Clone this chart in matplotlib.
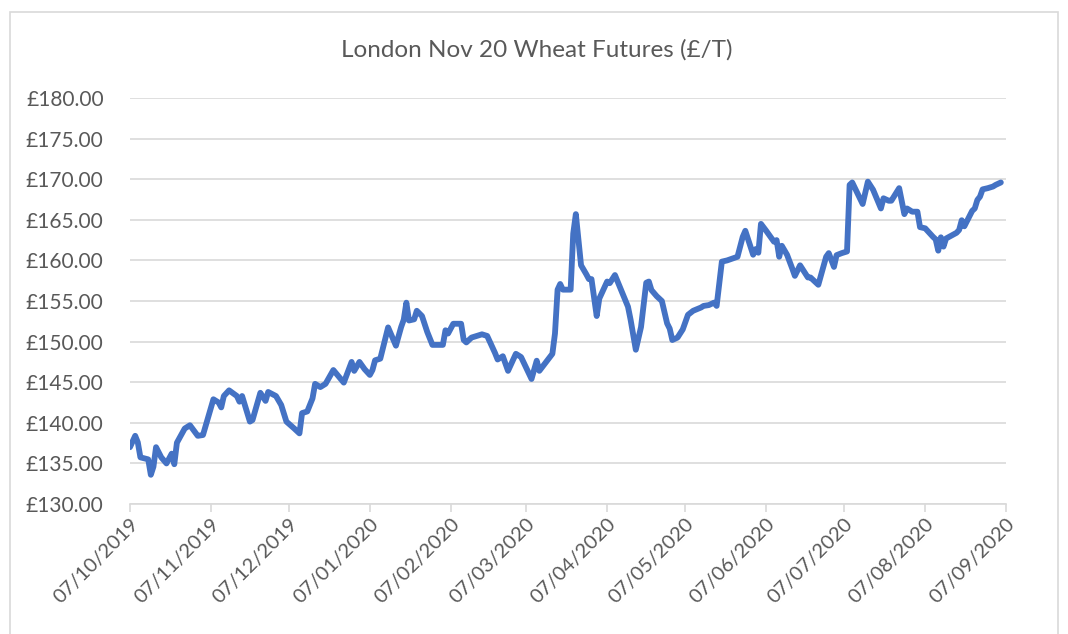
import matplotlib.pyplot as plt
import matplotlib.dates as mdates
from matplotlib.patches import Rectangle
from matplotlib.ticker import FuncFormatter, MultipleLocator
import pandas as pd

dates = [
    "2019-10-07", "2019-10-09", "2019-10-10", "2019-10-11", "2019-10-14", "2019-10-15",
    "2019-10-16", "2019-10-17", "2019-10-19", "2019-10-21", "2019-10-23", "2019-10-24",
    "2019-10-25", "2019-10-28", "2019-10-30", "2019-11-02", "2019-11-04", "2019-11-08",
    "2019-11-10", "2019-11-11", "2019-11-12", "2019-11-14", "2019-11-17", "2019-11-18",
    "2019-11-19", "2019-11-22", "2019-11-23", "2019-11-26", "2019-11-28", "2019-11-29",
    "2019-12-02", "2019-12-04", "2019-12-06", "2019-12-09", "2019-12-11", "2019-12-12",
    "2019-12-14", "2019-12-16", "2019-12-17", "2019-12-19", "2019-12-21", "2019-12-24",
    "2019-12-28", "2019-12-31", "2020-01-01", "2020-01-03", "2020-01-05", "2020-01-07",
    "2020-01-08", "2020-01-09", "2020-01-11", "2020-01-14", "2020-01-17", "2020-01-19",
    "2020-01-20", "2020-01-21", "2020-01-22", "2020-01-24", "2020-01-25", "2020-01-27",
    "2020-01-29", "2020-01-31", "2020-02-04", "2020-02-05", "2020-02-06", "2020-02-08",
    "2020-02-11", "2020-02-12", "2020-02-13", "2020-02-15", "2020-02-17", "2020-02-19",
    "2020-02-21", "2020-02-24", "2020-02-25", "2020-02-27", "2020-02-29", "2020-03-03",
    "2020-03-05", "2020-03-09", "2020-03-11", "2020-03-12", "2020-03-17", "2020-03-18",
    "2020-03-19", "2020-03-20", "2020-03-21", "2020-03-24", "2020-03-25", "2020-03-26",
    "2020-03-27", "2020-03-28", "2020-03-30", "2020-03-31", "2020-04-01", "2020-04-03",
    "2020-04-04", "2020-04-07", "2020-04-08", "2020-04-10", "2020-04-15", "2020-04-16",
    "2020-04-18", "2020-04-20", "2020-04-22", "2020-04-23", "2020-04-24", "2020-04-26",
    "2020-04-28", "2020-04-30", "2020-05-01", "2020-05-02", "2020-05-04", "2020-05-06",
    "2020-05-08", "2020-05-10", "2020-05-13", "2020-05-14", "2020-05-16", "2020-05-18",
    "2020-05-19", "2020-05-21", "2020-05-23", "2020-05-27", "2020-05-29", "2020-05-30",
    "2020-06-02", "2020-06-03", "2020-06-04", "2020-06-05", "2020-06-07", "2020-06-10",
    "2020-06-11", "2020-06-12", "2020-06-13", "2020-06-15", "2020-06-17", "2020-06-18",
    "2020-06-20", "2020-06-23", "2020-06-24", "2020-06-27", "2020-06-30", "2020-07-01",
    "2020-07-03", "2020-07-04", "2020-07-06", "2020-07-08", "2020-07-09", "2020-07-10",
    "2020-07-14", "2020-07-16", "2020-07-18", "2020-07-21", "2020-07-22", "2020-07-24",
    "2020-07-25", "2020-07-28", "2020-07-30", "2020-07-31", "2020-08-02", "2020-08-04",
    "2020-08-05", "2020-08-07", "2020-08-10", "2020-08-11", "2020-08-12", "2020-08-13",
    "2020-08-14", "2020-08-15", "2020-08-19", "2020-08-20", "2020-08-21", "2020-08-22",
    "2020-08-25", "2020-08-26", "2020-08-27", "2020-08-28", "2020-08-29", "2020-08-31",
    "2020-09-02", "2020-09-03", "2020-09-05",
]

prices = [
    137.0, 138.4, 137.6, 135.75, 135.5, 133.6,
    134.6, 137.0, 135.75, 135.0, 136.2, 134.9,
    137.55, 139.3, 139.7, 138.4, 138.5, 142.9,
    142.5, 141.9, 143.3, 144.0, 143.3, 142.6,
    143.3, 140.15, 140.35, 143.7, 142.7, 143.8,
    143.3, 142.2, 140.15, 139.3, 138.7, 141.2,
    141.4, 143.0, 144.8, 144.4, 144.8, 146.5,
    144.95, 147.5, 146.4, 147.5, 146.6, 145.9,
    146.5, 147.7, 147.9, 151.75, 149.5, 151.8,
    152.7, 154.8, 152.6, 152.75, 153.8, 153.15,
    151.2, 149.6, 149.6, 151.4, 151.0, 152.2,
    152.2, 150.2, 149.9, 150.5, 150.7, 150.9,
    150.7, 148.6, 147.8, 148.2, 146.4, 148.5,
    148.1, 145.4, 147.65, 146.4, 148.5, 151.0,
    156.4, 157.1, 156.4, 156.4, 163.3, 165.7,
    162.5, 159.4, 158.3, 157.7, 157.7, 153.15,
    155.3, 157.4, 157.2, 158.2, 154.3, 152.7,
    149.0, 151.8, 157.25, 157.4, 156.35, 155.6,
    155.0, 152.25, 151.6, 150.2, 150.5, 151.5,
    153.3, 153.8, 154.2, 154.4, 154.5, 154.8,
    154.4, 159.85, 160.0, 160.45, 162.9, 163.65,
    160.7, 161.4, 160.95, 164.5, 163.65, 162.3,
    162.5, 160.45, 161.8, 160.7, 159.0, 158.1,
    159.4, 157.9, 157.9, 157.0, 160.45, 160.9,
    159.2, 160.65, 160.9, 161.1, 169.3, 169.6,
    166.95, 169.7, 168.7, 166.4, 167.65, 167.35,
    167.35, 168.9, 165.7, 166.4, 166.0, 166.0,
    164.1, 163.95, 162.9, 162.6, 161.2, 162.85,
    161.7, 162.7, 163.4, 163.75, 164.95, 164.2,
    166.1, 166.4, 167.45, 167.85, 168.75, 168.9,
    169.1, 169.3, 169.6,
]

tick_dates = pd.date_range("2019-10-07", periods=12, freq=pd.DateOffset(months=1))

plt.rcParams['font.family'] = ['Lato', 'DejaVu Sans']

fig = plt.figure(figsize=(10.68, 6.34), dpi=100)
ax = fig.add_axes([0.1217, 0.205, 0.8203, 0.6404])

# light frame round the whole chart
fig.patches.append(Rectangle((10 / 1068, -0.1), 1048 / 1068, 1.1 - 12 / 634,
                             transform=fig.transFigure, fill=False,
                             edgecolor='#d9d9d9', lw=1.2))

ax.plot(pd.to_datetime(dates), prices, color='#4472C4', lw=4.2,
        solid_joinstyle='round', solid_capstyle='round', zorder=3)

ax.set_ylim(130, 180)
ax.yaxis.set_major_locator(MultipleLocator(5))
ax.yaxis.set_major_formatter(FuncFormatter(lambda v, p: f"£{v:.2f}"))
ax.set_xlim(tick_dates[0], tick_dates[-1])
ax.set_xticks(tick_dates)
ax.xaxis.set_major_formatter(mdates.DateFormatter('%d/%m/%Y'))

ax.grid(axis='y', color='#d9d9d9', lw=1.2)
ax.set_axisbelow(True)
for s in ['top', 'right', 'left']:
    ax.spines[s].set_visible(False)
ax.spines['bottom'].set_color('#d9d9d9')
ax.spines['bottom'].set_linewidth(1.2)

ax.tick_params(axis='y', length=0, pad=19, labelsize=15, labelcolor='#595959')
ax.tick_params(axis='x', length=6, width=1.2, color='#d9d9d9', pad=2,
               labelsize=14.5, labelcolor='#595959')
for lbl in ax.get_xticklabels():
    lbl.set_rotation(45)
    lbl.set_ha('right')
    lbl.set_rotation_mode('anchor')

fig.text(0.503, 0.921, "London Nov 20 Wheat Futures (£/T)", ha='center', va='center',
         fontsize=17.5, color='#595959')

fig.savefig('out.png', dpi=100)
